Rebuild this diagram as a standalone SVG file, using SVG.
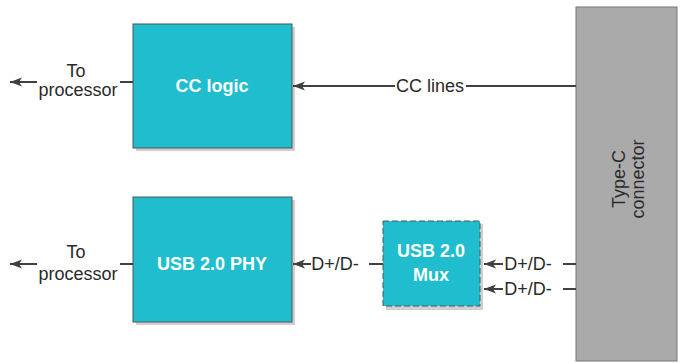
<svg xmlns="http://www.w3.org/2000/svg" width="680" height="363" viewBox="0 0 680 363">
<style>
.box{fill:#1fbdcd;stroke:#555;stroke-width:1}
.shadow{fill:#cfcfcf}
.lbl{font-family:"Liberation Sans",Arial,sans-serif;font-weight:bold;font-size:18px;fill:#fff;text-anchor:middle}
.txt{font-family:"Liberation Sans",Arial,sans-serif;font-size:18px;fill:#2a2a2a;text-anchor:middle}
.ln{stroke:#404040;stroke-width:2;fill:none}
</style>
<defs>
<marker id="ah" viewBox="0 0 12 10" refX="12" refY="5" markerWidth="12" markerHeight="10" markerUnits="userSpaceOnUse" orient="auto">
<path d="M12,5 L0,0.5 L3,5 L0,9.5 Z" fill="#404040"/>
</marker>
</defs>
<g id="type-c">
<rect x="576" y="7" width="101" height="354" fill="#aaaaab" stroke="#777" stroke-width="1"/>
<text class="txt" transform="translate(626,179) rotate(-90)"><tspan x="0" y="-1">Type-C</tspan><tspan x="0" y="18">connector</tspan></text>
</g>
<g id="cc-logic">
<rect class="shadow" x="136" y="27" width="159" height="124"/>
<rect class="box" x="133" y="24" width="159" height="124"/>
<text class="lbl" x="212" y="92">CC logic</text>
</g>
<g id="usb-phy">
<rect class="shadow" x="136" y="200" width="159" height="125"/>
<rect class="box" x="133" y="197" width="159" height="125"/>
<text class="lbl" x="212" y="270">USB 2.0 PHY</text>
</g>
<g id="usb-mux">
<rect class="shadow" x="386" y="224" width="97" height="86"/>
<rect class="box" x="383" y="221" width="97" height="85" stroke-dasharray="6,3" stroke="#444" stroke-width="2"/>
<text class="lbl" x="431" y="257">USB 2.0</text>
<text class="lbl" x="431" y="281">Mux</text>
</g>
<g id="connectors">
<line class="ln" x1="120" y1="82" x2="133" y2="82"/>
<line class="ln" x1="37" y1="82" x2="10" y2="82" marker-end="url(#ah)"/>
<text class="txt" x="76" y="77">To</text>
<text class="txt" x="78" y="96">processor</text>
<line class="ln" x1="120" y1="264" x2="133" y2="264"/>
<line class="ln" x1="37" y1="264" x2="10" y2="264" marker-end="url(#ah)"/>
<text class="txt" x="76" y="258">To</text>
<text class="txt" x="78" y="280">processor</text>
<line class="ln" x1="395" y1="86" x2="293" y2="86" marker-end="url(#ah)"/>
<line class="ln" x1="466" y1="86" x2="576" y2="86"/>
<text class="txt" x="430" y="92">CC lines</text>
<line class="ln" x1="311" y1="264" x2="293" y2="264" marker-end="url(#ah)"/>
<text class="txt" x="335" y="270">D+/D-</text>
<line class="ln" x1="369" y1="264" x2="383" y2="264"/>
<line class="ln" x1="503" y1="264" x2="484" y2="264" marker-end="url(#ah)"/>
<text class="txt" x="528" y="270">D+/D-</text>
<line class="ln" x1="563" y1="264" x2="576" y2="264"/>
<line class="ln" x1="503" y1="289" x2="484" y2="289" marker-end="url(#ah)"/>
<text class="txt" x="528" y="295">D+/D-</text>
<line class="ln" x1="563" y1="289" x2="576" y2="289"/>
</g>
</svg>
